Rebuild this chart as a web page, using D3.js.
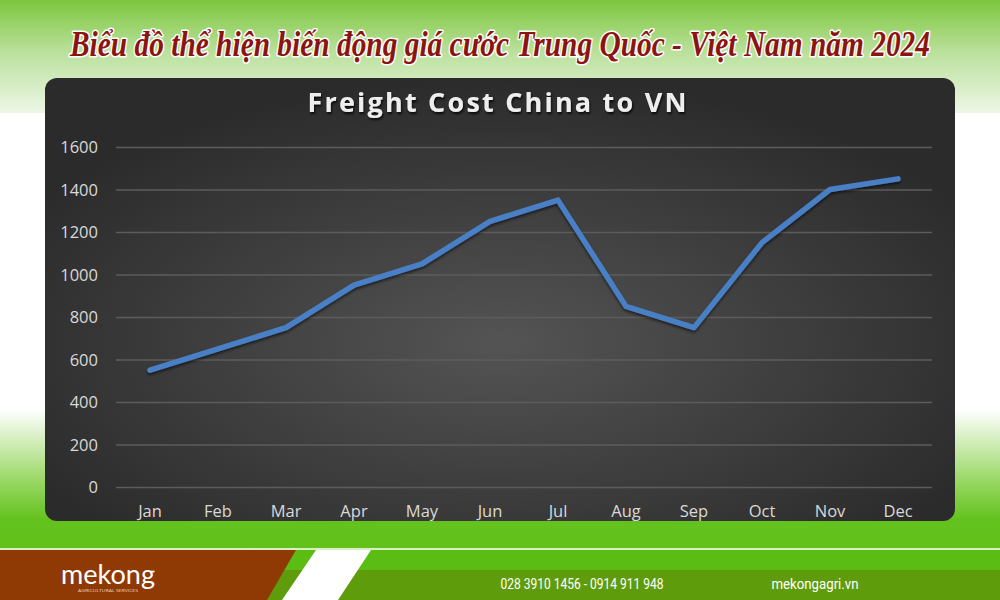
<!DOCTYPE html>
<html><head><meta charset="utf-8">
<script src="https://cdn.jsdelivr.net/npm/d3@7"></script>
<style>html,body{margin:0;padding:0;background:#fff;overflow:hidden}svg{display:block}</style>
</head><body>
<script>
const months = ["Jan","Feb","Mar","Apr","May","Jun","Jul","Aug","Sep","Oct","Nov","Dec"];
const freight = [550,650,750,950,1050,1250,1350,850,750,1150,1400,1450];
const yTicks = [0,200,400,600,800,1000,1200,1400,1600];
const mainTitle = "Biểu đồ thể hiện biến động giá cước Trung Quốc - Việt Nam năm 2024";
const chartTitle = "Freight Cost China to VN";
const phone = "028 3910 1456 - 0914 911 948";
const site = "mekongagri.vn";
const logo = "mekong";
const logoSub = "AGRICULTURAL SERVICES";

const W=1000,H=600;
const svg=d3.select("body").append("svg").attr("width",W).attr("height",H);
const defs=svg.append("defs");

const gTop=defs.append("linearGradient").attr("id","gTop").attr("x1",0).attr("y1",0).attr("x2",0).attr("y2",1);
gTop.append("stop").attr("offset","0%").attr("stop-color","#7cc63c");
gTop.append("stop").attr("offset","45%").attr("stop-color","#b9e09a");
gTop.append("stop").attr("offset","100%").attr("stop-color","#eef7e7");
const gBot=defs.append("linearGradient").attr("id","gBot").attr("x1",0).attr("y1",0).attr("x2",0).attr("y2",1);
gBot.append("stop").attr("offset","0%").attr("stop-color","#ffffff");
gBot.append("stop").attr("offset","50%").attr("stop-color","#9ad866");
gBot.append("stop").attr("offset","78%").attr("stop-color","#64c21e");
gBot.append("stop").attr("offset","100%").attr("stop-color","#62c11b");
const gPanel=defs.append("radialGradient").attr("id","gPanel").attr("cx","50%").attr("cy","60%").attr("r","60%");
gPanel.append("stop").attr("offset","0%").attr("stop-color","#545454");
gPanel.append("stop").attr("offset","100%").attr("stop-color","#2b2b2b");
const f=defs.append("filter").attr("id","sh").attr("x","-10%").attr("y","-10%").attr("width","120%").attr("height","130%");
f.append("feDropShadow").attr("dx",0).attr("dy",2).attr("stdDeviation",1.5).attr("flood-color","#000").attr("flood-opacity",0.6);
const f2=defs.append("filter").attr("id","tsh").attr("x","-10%").attr("y","-30%").attr("width","120%").attr("height","160%");
f2.append("feDropShadow").attr("dx",1).attr("dy",2).attr("stdDeviation",1.2).attr("flood-color","#000").attr("flood-opacity",0.8);

svg.append("rect").attr("width",W).attr("height",H).attr("fill","#fff");
svg.append("rect").attr("x",0).attr("y",0).attr("width",W).attr("height",113).attr("fill","url(#gTop)");
svg.append("rect").attr("x",0).attr("y",410).attr("width",W).attr("height",140).attr("fill","url(#gBot)");

svg.append("text").attr("transform","translate(500,56) scale(1,1.28)").attr("text-anchor","middle")
  .attr("font-family","Liberation Serif, DejaVu Serif, serif").attr("font-style","italic").attr("font-weight","bold")
  .attr("font-size",28).attr("fill","#8c1410")
  .attr("stroke","#ffffff").attr("stroke-width",2.5).attr("paint-order","stroke").attr("stroke-linejoin","round")
  .attr("textLength",860).attr("lengthAdjust","spacingAndGlyphs")
  .text(mainTitle);

svg.append("rect").attr("x",45).attr("y",78).attr("width",910).attr("height",443).attr("rx",12)
  .attr("fill","url(#gPanel)");

svg.append("text").attr("x",498).attr("y",112).attr("text-anchor","middle")
  .attr("font-family","Open Sans, sans-serif").attr("font-weight","bold").attr("font-size",27)
  .attr("letter-spacing",2.2).attr("fill","#eeeeee").attr("filter","url(#tsh)").text(chartTitle);

const x=d3.scaleBand().domain(months).range([116,932]);
const y=d3.scaleLinear().domain([0,1600]).range([487,147]);

const gy=svg.append("g").attr("transform","translate(116,0)")
  .call(d3.axisLeft(y).tickValues(yTicks).tickSize(-816).tickPadding(18).tickFormat(d3.format("d")));
gy.select(".domain").remove();
gy.selectAll(".tick line").attr("stroke","#5c5c5c").attr("stroke-width",1.5);
gy.selectAll(".tick text").attr("fill","#d9d9d9").attr("font-family","Open Sans, sans-serif").attr("font-size",16.5).attr("dy","0.34em");

const gx=svg.append("g").attr("transform","translate(0,487)")
  .call(d3.axisBottom(x).tickSize(0).tickPadding(18));
gx.select(".domain").remove();
gx.selectAll(".tick text").attr("fill","#d9d9d9").attr("font-family","Open Sans, sans-serif").attr("font-size",16.5).attr("dy","0.71em");

const line=d3.line().x((d,i)=>x(months[i])+x.bandwidth()/2).y(d=>y(d));
svg.append("path").datum(freight).attr("d",line).attr("fill","none")
  .attr("stroke","#4a7fc4").attr("stroke-width",5.5).attr("stroke-linejoin","round").attr("stroke-linecap","round")
  .attr("filter","url(#sh)");

// footer
svg.append("rect").attr("x",0).attr("y",548).attr("width",W).attr("height",2).attr("fill","#d8f0c4");
svg.append("rect").attr("x",0).attr("y",550).attr("width",W).attr("height",50).attr("fill","#5bbd13");
svg.append("rect").attr("x",0).attr("y",570).attr("width",W).attr("height",30).attr("fill","#5f9c0c");
svg.append("polygon").attr("points","0,550 296,550 267,600 0,600").attr("fill","#8f3a05");
svg.append("polygon").attr("points","316,550 371,550 338,600 282,600").attr("fill","#ffffff");

svg.append("text").attr("x",108).attr("y",584).attr("text-anchor","middle")
  .attr("font-family","Lato, Open Sans, sans-serif").attr("font-size",26).attr("fill","#ffffff")
  .attr("textLength",94).attr("lengthAdjust","spacingAndGlyphs").text(logo);
svg.append("text").attr("x",108).attr("y",592).attr("text-anchor","middle")
  .attr("font-family","Open Sans, sans-serif").attr("font-size",4).attr("fill","#f0d8c8")
  .attr("textLength",60).attr("lengthAdjust","spacingAndGlyphs").text(logoSub);

svg.append("text").attr("x",582).attr("y",589).attr("text-anchor","middle")
  .attr("font-family","Roboto, sans-serif").attr("font-size",14).attr("fill","#ffffff")
  .attr("textLength",163).attr("lengthAdjust","spacingAndGlyphs").text(phone);
svg.append("text").attr("x",815).attr("y",589).attr("text-anchor","middle")
  .attr("font-family","Roboto, sans-serif").attr("font-size",14).attr("fill","#ffffff")
  .attr("textLength",87).attr("lengthAdjust","spacingAndGlyphs").text(site);
</script>
</body></html>
